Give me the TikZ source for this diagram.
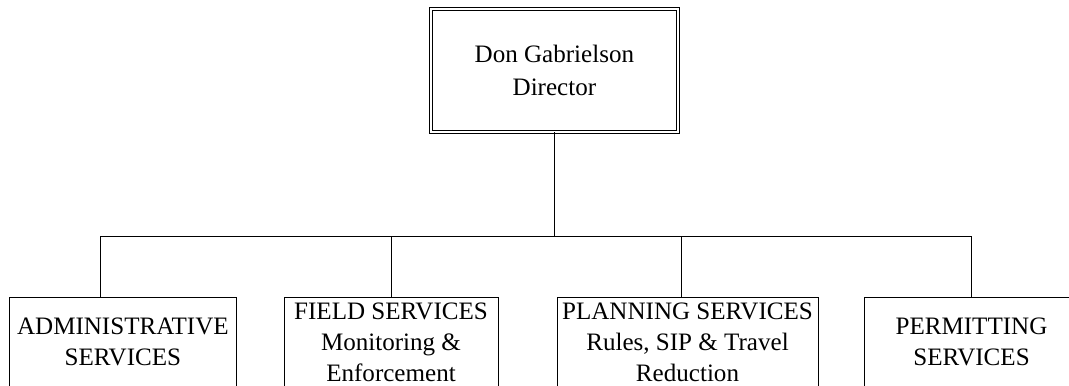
\documentclass[tikz,border=0pt]{standalone}
\usepackage{fontspec}
\setmainfont{Liberation Serif}
\begin{document}
\begin{tikzpicture}[x=0.75pt,y=-0.75pt,
    unit/.style={draw, line width=0.75pt, rectangle, inner sep=0pt, align=center,
                 font=\fontsize{18.8}{23}\selectfont},
    head/.style={unit, double, double distance=1.6pt, line width=0.8pt,
                 font=\fontsize{18.8}{24.5}\selectfont},
    office/.style={unit, anchor=north, minimum height=67pt},
    link/.style={line width=0.75pt}]
            \useasboundingbox (0,0) rectangle (1069,385);
            \clip (0,0) rectangle (1069,385);

            \node[head, minimum width=185.4pt, minimum height=92pt] (dir) at (554.4,70.5) {Don Gabrielson\\Director};

            \node[office, minimum width=170.8pt] (adm) at (122.9,297) {ADMINISTRATIVE\\SERVICES};
            \node[office, minimum width=160.5pt] (fld) at (391,297) {FIELD SERVICES\\Monitoring \&\\Enforcement};
            \node[office, minimum width=195.75pt] (pln) at (687.5,297) {PLANNING SERVICES\\Rules, SIP \& Travel\\Reduction};
            \node[office, minimum width=161.25pt] (prm) at (971.5,297) {PERMITTING\\SERVICES};

            \coordinate (b1) at (100.7,236);
            \coordinate (b2) at (391,236);
            \coordinate (b3) at (681.7,236);
            \coordinate (b4) at (971.7,236);

            \draw[link] (dir.south) -- (dir.south |- b1);
            \draw[link] (b1) -- (b4);
            \foreach \b\n in {b1/adm,b2/fld,b3/pln,b4/prm}
            {
                \draw[link] (\b) -- (\b |- \n.north);
            }
        \end{tikzpicture}
\end{document}
